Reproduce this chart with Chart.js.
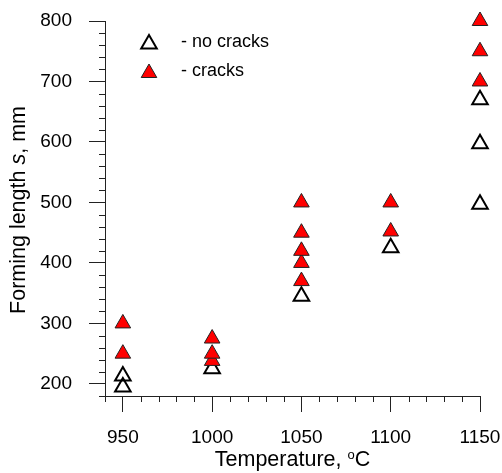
<!DOCTYPE html>
<html>
<head>
<meta charset="utf-8">
<script src="https://cdn.jsdelivr.net/npm/chart.js@4/dist/chart.umd.min.js"></script>
<style>
  html, body { margin: 0; padding: 0; background: #fff; }
  #wrap { width: 502px; height: 473px; }
</style>
</head>
<body>
<div id="wrap"><canvas id="chart" width="502" height="473"></canvas></div>
<script>
// Data
const noCrackTemps = [950, 950, 1000, 1050, 1100, 1150, 1150, 1150];
const noCrackLengths = [195, 213, 225, 345, 425, 497, 597, 670];
const crackTemps = [950, 950, 1000, 1000, 1000, 1050, 1050, 1050, 1050, 1050, 1100, 1100, 1150, 1150, 1150];
const crackLengths = [250, 300, 238, 250, 275, 370, 400, 420, 450, 500, 452, 500, 700, 750, 800];

const xMajorTicks = [950, 1000, 1050, 1100, 1150];
const yMajorTicks = [200, 300, 400, 500, 600, 700, 800];
const legendLabels = ["- no cracks", "- cracks"];

const FONT = "Arial, 'Liberation Sans', sans-serif";
const AXIS_COLOR = "#222";

const toPoints = (xs, ys) => xs.map((x, i) => ({ x, y: ys[i] }));

const noCrackStyle = {
  pointStyle: "triangle",
  pointRadius: 9,
  pointBackgroundColor: "rgba(255,255,255,0)",
  pointBorderColor: "#000",
  pointBorderWidth: 2
};
const crackStyle = {
  pointStyle: "triangle",
  pointRadius: 9,
  pointBackgroundColor: "#ff0000",
  pointBorderColor: "#222",
  pointBorderWidth: 1
};

// Short minor ticks, drawn through the scales
const minorTicks = {
  id: "minorTicks",
  afterDraw(chart) {
    const ctx = chart.ctx;
    const xs = chart.scales.x, ys = chart.scales.y;
    ctx.save();
    ctx.strokeStyle = AXIS_COLOR;
    ctx.lineWidth = 1;
    ctx.beginPath();
    xs.ticks.forEach(t => {
      if (xMajorTicks.includes(t.value)) return;
      const px = Math.round(xs.getPixelForValue(t.value)) + 0.5;
      ctx.moveTo(px, xs.top);
      ctx.lineTo(px, xs.top + 6);
    });
    ys.ticks.forEach(t => {
      if (yMajorTicks.includes(t.value)) return;
      const py = Math.round(ys.getPixelForValue(t.value)) + 0.5;
      ctx.moveTo(ys.right, py);
      ctx.lineTo(ys.right - 6, py);
    });
    ctx.stroke();
    ctx.restore();
  }
};

// Axis titles with mixed styles (italic s, superscript o)
const axisTitles = {
  id: "axisTitles",
  afterDraw(chart) {
    const ctx = chart.ctx;
    const area = chart.chartArea;
    ctx.save();
    ctx.fillStyle = "#000";
    ctx.textBaseline = "middle";

    // y title
    const partsY = [
      { t: "Forming length ", f: "21.5px " + FONT },
      { t: "s", f: "italic 21.5px " + FONT },
      { t: ", mm", f: "21.5px " + FONT }
    ];
    let total = 0;
    partsY.forEach(p => { ctx.font = p.f; p.w = ctx.measureText(p.t).width; total += p.w; });
    ctx.translate(19, 210);
    ctx.rotate(-Math.PI / 2);
    let cx = -total / 2;
    ctx.textAlign = "left";
    partsY.forEach(p => { ctx.font = p.f; ctx.fillText(p.t, cx, 0); cx += p.w; });
    ctx.setTransform(1, 0, 0, 1, 0, 0);

    // x title
    const partsX = [
      { t: "Temperature, ", f: "21.5px " + FONT, dy: 0 },
      { t: "o", f: "13px " + FONT, dy: -5 },
      { t: "C", f: "21.5px " + FONT, dy: 0 }
    ];
    total = 0;
    partsX.forEach(p => { ctx.font = p.f; p.w = ctx.measureText(p.t).width; total += p.w; });
    cx = (area.left + area.right) / 2 - total / 2;
    const ty = 460;
    partsX.forEach(p => { ctx.font = p.f; ctx.fillText(p.t, cx, ty + p.dy); cx += p.w; });
    ctx.restore();
  }
};

// Legend inside the plot
const innerLegend = {
  id: "innerLegend",
  afterDraw(chart) {
    const ctx = chart.ctx;
    const styles = [noCrackStyle, crackStyle];
    const rows = [43, 72];
    ctx.save();
    styles.forEach((s, i) => {
      const opts = {
        pointStyle: s.pointStyle,
        radius: s.pointRadius,
        borderWidth: s.pointBorderWidth,
        rotation: 0
      };
      ctx.fillStyle = s.pointBackgroundColor;
      ctx.strokeStyle = s.pointBorderColor;
      ctx.lineWidth = s.pointBorderWidth;
      Chart.helpers.drawPoint(ctx, opts, 149, rows[i] + 1);
      ctx.fillStyle = "#000";
      ctx.font = "18px " + FONT;
      ctx.textAlign = "left";
      ctx.textBaseline = "middle";
      ctx.fillText(legendLabels[i], 181, rows[i] - 1);
    });
    ctx.restore();
  }
};

new Chart(document.getElementById("chart"), {
  type: "scatter",
  data: {
    datasets: [
      Object.assign({ label: legendLabels[1], data: toPoints(crackTemps, crackLengths), clip: false }, crackStyle),
      Object.assign({ label: legendLabels[0], data: toPoints(noCrackTemps, noCrackLengths), clip: false }, noCrackStyle)
    ]
  },
  options: {
    responsive: false,
    animation: false,
    layout: { padding: { left: 0, right: 22, top: 21, bottom: 0 } },
    plugins: {
      legend: { display: false },
      tooltip: { enabled: false }
    },
    scales: {
      x: {
        type: "linear",
        min: 940,
        max: 1150,
        afterFit: scale => {
          scale.height = 77;
          scale.paddingLeft = 0;
          scale.paddingRight = 0;
        },
        border: { color: AXIS_COLOR, width: 1 },
        grid: {
          drawOnChartArea: false,
          tickLength: 16,
          tickColor: c => xMajorTicks.includes(c.tick.value) ? AXIS_COLOR : "rgba(0,0,0,0)"
        },
        ticks: {
          stepSize: 10,
          autoSkip: false,
          maxRotation: 0,
          padding: 14,
          color: "#000",
          font: { family: FONT, size: 19 },
          callback: v => xMajorTicks.includes(v) ? String(v) : ""
        }
      },
      y: {
        type: "linear",
        min: 180,
        max: 800,
        afterFit: scale => {
          scale.width = 105;
          scale.paddingTop = 0;
          scale.paddingBottom = 0;
        },
        border: { color: AXIS_COLOR, width: 1 },
        grid: {
          drawOnChartArea: false,
          tickLength: 16,
          tickColor: c => yMajorTicks.includes(c.tick.value) ? AXIS_COLOR : "rgba(0,0,0,0)"
        },
        ticks: {
          stepSize: 20,
          autoSkip: false,
          padding: 17,
          color: "#000",
          font: { family: FONT, size: 19 },
          callback: v => yMajorTicks.includes(v) ? String(v) : ""
        }
      }
    }
  },
  plugins: [minorTicks, axisTitles, innerLegend]
});
</script>
</body>
</html>
